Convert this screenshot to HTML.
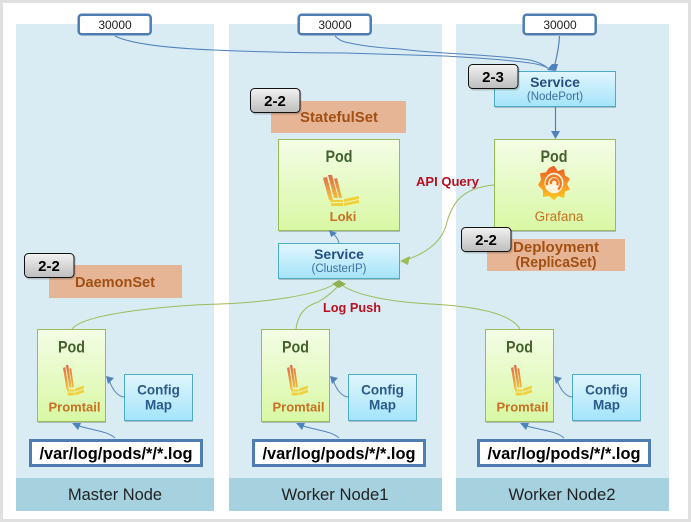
<!DOCTYPE html>
<html><head><meta charset="utf-8"><style>
html,body{margin:0;padding:0;background:#fff}
svg{display:block}
text{font-family:"Liberation Sans","DejaVu Sans",sans-serif;text-anchor:middle}
.pod{font-size:17px;font-weight:bold;fill:#44612f}
.app{font-size:13px;font-weight:bold;fill:#c8701f}
.svc{font-size:14px;font-weight:bold;fill:#244f80}
.sub{font-size:11.5px;fill:#3f6f9f}
.cfg{font-size:13.5px;fill:#2a5a8c;font-weight:bold}
.log{font-size:16.5px;font-weight:bold;fill:#000}
.node{font-size:16.5px;fill:#222}
.port{font-size:12px;fill:#222}
.bad{font-size:15px;font-weight:bold;fill:#000}
.org{font-size:14.5px;font-weight:bold;fill:#a14f12}
.red{font-size:13px;font-weight:bold;fill:#b80f20}
</style></head><body>
<svg width="691" height="522" viewBox="0 0 691 522" xmlns="http://www.w3.org/2000/svg">
<defs>
<linearGradient id="g" x1="0" y1="0" x2="0" y2="1"><stop offset="0" stop-color="#f4fde6"/><stop offset="1" stop-color="#d8f8a4"/></linearGradient>
<linearGradient id="b" x1="0" y1="0" x2="0" y2="1"><stop offset="0" stop-color="#e2f6fd"/><stop offset="1" stop-color="#a4e4fa"/></linearGradient>
<linearGradient id="s" x1="0" y1="0" x2="0" y2="1"><stop offset="0" stop-color="#f2f2f2"/><stop offset="1" stop-color="#bdbdbd"/></linearGradient>
<linearGradient id="l" gradientUnits="userSpaceOnUse" x1="0" y1="0" x2="0" y2="26"><stop offset="0" stop-color="#dd6a48"/><stop offset="1" stop-color="#f6c63e"/></linearGradient>
<linearGradient id="gr" x1="0" y1="0" x2="0" y2="1"><stop offset="0" stop-color="#ef5a28"/><stop offset="1" stop-color="#fbca1f"/></linearGradient>
<g id="logo">
<path d="M0 3 L4 2 L10 25 L6 25Z M5 0 L9 0 L15 23 L11 23Z M11 4 L14 3 L19 23 L16 23Z" fill="url(#l)"/>
<path d="M7 25 H20 V27 H7Z M8 28 H20 V31 H8Z M21 24 L36 21 V24 L21 27Z M21 28 L36 25 V28 L21 31Z" fill="#f3cf3c"/>
</g>
<g id="pt">
<rect x="0" y="0" width="68" height="92" fill="url(#g)" stroke="#9bbb59" stroke-width="1"/>
<text class="pod" x="34" y="23" textLength="27" lengthAdjust="spacingAndGlyphs">Pod</text>
<g transform="translate(25.5,35.5) scale(.58 .98)"><use href="#logo"/></g>
<text class="app" x="37" y="82">Promtail</text>
</g>
<g id="cm">
<rect x="0" y="0" width="68" height="46" fill="url(#b)" stroke="#4bacc6" stroke-width="1"/>
<text class="cfg" x="34" y="20">Config</text>
<text class="cfg" x="34" y="35">Map</text>
</g>
<g id="lg">
<rect x="1.5" y="1.5" width="171" height="25" fill="#fff" stroke="#4f7cb3" stroke-width="3"/>
<text class="log" x="87" y="20" textLength="153" lengthAdjust="spacingAndGlyphs">/var/log/pods/*/*.log</text>
</g>
<g id="pb">
<rect x="1.2" y="1.2" width="72" height="19.6" rx="3" fill="#fff" stroke="#4f7cb3" stroke-width="2.5"/>
<text class="port" x="37.5" y="15.5">30000</text>
</g>
<g id="bd">
<rect x="1.5" y="1.5" width="50" height="25" rx="4" fill="#000" opacity=".18"/>
<rect x=".5" y=".5" width="49.5" height="24" rx="4" fill="url(#s)" stroke="#111" stroke-width="1"/>
<text class="bad" x="25" y="18">2-2</text>
</g>
</defs>

<rect width="691" height="522" fill="#e0e0e0"/>
<rect x="3" y="3" width="685" height="516" fill="#fff"/>

<rect x="16" y="24" width="198" height="487" fill="#daecf3"/>
<rect x="229" y="24" width="213" height="487" fill="#daecf3"/>
<rect x="456" y="24" width="213" height="487" fill="#daecf3"/>
<rect x="16" y="478" width="198" height="33" fill="#a6d2e0"/>
<rect x="229" y="478" width="213" height="33" fill="#a6d2e0"/>
<rect x="456" y="478" width="213" height="33" fill="#a6d2e0"/>
<text class="node" x="115" y="500" textLength="94" lengthAdjust="spacingAndGlyphs">Master Node</text>
<text class="node" x="335" y="500" textLength="107" lengthAdjust="spacingAndGlyphs">Worker Node1</text>
<text class="node" x="562" y="500" textLength="107" lengthAdjust="spacingAndGlyphs">Worker Node2</text>

<!-- orange labels -->
<rect x="271" y="101" width="135" height="32" fill="#e6b595"/>
<text class="org" x="339" y="122" textLength="78" lengthAdjust="spacingAndGlyphs">StatefulSet</text>
<rect x="49" y="265" width="133" height="33" fill="#e6b595"/>
<text class="org" x="115" y="287" textLength="80" lengthAdjust="spacingAndGlyphs">DaemonSet</text>
<rect x="487" y="239" width="138" height="32" fill="#e6b595"/>
<text class="org" x="556" y="252" textLength="86" lengthAdjust="spacingAndGlyphs">Deployment</text>
<text class="org" x="556" y="267" textLength="81" lengthAdjust="spacingAndGlyphs">(ReplicaSet)</text>

<!-- shadows -->
<g fill="#000" opacity=".2">
<rect x="279" y="141" width="121" height="91"/><rect x="279" y="245" width="121" height="35"/>
<rect x="495" y="73" width="121" height="35"/><rect x="495" y="141" width="121" height="91"/>
<rect x="38" y="331" width="68" height="92"/><rect x="262" y="331" width="68" height="92"/><rect x="486" y="331" width="68" height="92"/>
<rect x="125" y="376" width="68" height="46"/><rect x="349" y="376" width="68" height="46"/><rect x="573" y="376" width="68" height="46"/>
</g>

<!-- Loki pod -->
<rect x="278.5" y="139.5" width="121" height="91" fill="url(#g)" stroke="#9bbb59"/>
<text class="pod" x="339" y="162" textLength="27" lengthAdjust="spacingAndGlyphs">Pod</text>
<g transform="translate(323,175)"><use href="#logo"/></g>
<text class="app" x="343" y="221">Loki</text>

<!-- ClusterIP -->
<rect x="278.5" y="243.5" width="121" height="35" fill="url(#b)" stroke="#4bacc6"/>
<text class="svc" x="339" y="259">Service</text>
<text class="sub" x="339" y="272">(ClusterIP)</text>

<!-- NodePort -->
<rect x="494.5" y="71.5" width="121" height="35" fill="url(#b)" stroke="#4bacc6"/>
<text class="svc" x="555" y="87">Service</text>
<text class="sub" x="555" y="100">(NodePort)</text>

<!-- Grafana pod -->
<rect x="494.5" y="139.5" width="121" height="91" fill="url(#g)" stroke="#9bbb59"/>
<text class="pod" x="554" y="162" textLength="27" lengthAdjust="spacingAndGlyphs">Pod</text>
<g transform="translate(554,183) scale(1 1.08)">
<path d="M0 -16 L4 -11 L10 -13 L11 -7 L16 -4 L13 1 L16 6 L11 8 L10 14 L4 12 L0 16 L-5 12 L-11 13 L-11 7 L-16 2 L-13 -3 L-14 -9 L-8 -10 L-5 -14Z" fill="url(#gr)"/>
<circle cx="0" cy="0" r="9.5" fill="#fdf6dc"/>
<path d="M-7 2 A7 7 0 1 1 4 6 M-3 1 A3.4 3.4 0 1 1 3 2" fill="none" stroke="#f07a24" stroke-width="2.4"/>
</g>
<text class="app" x="559" y="221" style="font-weight:normal;font-size:13.5px">Grafana</text>

<!-- promtail, config, logs -->
<use href="#pt" x="37.5" y="329.5"/>
<use href="#pt" x="261.5" y="329.5"/>
<use href="#pt" x="485.5" y="329.5"/>
<use href="#cm" x="124.5" y="374.5"/>
<use href="#cm" x="348.5" y="374.5"/>
<use href="#cm" x="572.5" y="374.5"/>
<use href="#lg" x="29" y="439"/>
<use href="#lg" x="252" y="439"/>
<use href="#lg" x="477" y="439"/>

<!-- ports -->
<use href="#pb" x="77.5" y="13.5"/>
<use href="#pb" x="297.5" y="13.5"/>
<use href="#pb" x="522.5" y="13.5"/>

<!-- blue connectors -->
<g fill="none" stroke="#4f81bd" stroke-width="1">
<path d="M115 36 C135 46 190 49 214 50 C260 52 300 53 345 53 C385 54 420 55 445 56 C480 58 510 60 530 63 C538 64 544 66 548 68"/>
<path d="M335 36 C338 39 341 41 345 42 C362 46 380 48 400 49 C415 51 430 52 445 53 C480 55 510 57 530 60 C538 62 544 65 548 68"/>
<path d="M559.5 36 C559 46 558 52 555 64" stroke-width="1.2"/>
<path d="M555.5 107 V133" stroke-width="1.2"/>
<path d="M339 243 C338 238 335 235 331 232"/>
<path d="M124 397 C116 396 112 388 108 378"/><path d="M348 397 C340 396 336 388 332 378"/><path d="M572 397 C564 396 560 388 556 378"/>
<path d="M115 438 C108 431 90 430 76 425"/><path d="M339 438 C332 431 314 430 300 425"/><path d="M564 438 C557 431 539 430 523 425"/>
</g>
<g fill="#4f81bd">
<path d="M547 70 L552 64 L558 64 L556 71Z"/>
<path d="M555.5 139 L551 131 H560Z"/>
<path d="M329 230 L337 233 L331 237Z"/>
<path d="M106 376 L114 378 L108 384Z"/><path d="M330 376 L338 378 L332 384Z"/><path d="M554 376 L562 378 L556 384Z"/>
<path d="M72 423 L81 423 L78 430Z"/><path d="M296 423 L305 423 L302 430Z"/><path d="M520 423 L529 423 L526 430Z"/>
</g>

<!-- green connectors -->
<g fill="none" stroke="#9bbb59" stroke-width="1">
<path d="M494 185 C460 188 452 205 447 222 C442 245 420 256 402 261"/>
<path d="M72 329 C85 312 180 305 220 304 C270 302 315 295 333 285"/>
<path d="M296 329 C298 312 308 305 318 302 C325 298 333 292 339 285"/>
<path d="M520 329 C510 312 470 306 430 304 C390 302 355 295 342 285"/>
</g>
<path d="M400 261 L410 256 L408 265Z" fill="#9bbb59"/>
<path d="M332 284 L339 280 L346 284 L339 288Z" fill="#8fb04f"/>

<text class="red" x="447.5" y="186" textLength="63" lengthAdjust="spacingAndGlyphs">API Query</text>
<text class="red" x="352" y="312" textLength="58" lengthAdjust="spacingAndGlyphs">Log Push</text>

<!-- badges -->
<use href="#bd" x="250" y="88"/>
<use href="#bd" x="24" y="253"/>
<use href="#bd" x="461" y="227"/>
<g transform="translate(468,64)">
<rect x="1.5" y="1.5" width="50" height="25" rx="4" fill="#000" opacity=".18"/>
<rect x=".5" y=".5" width="49.5" height="24" rx="4" fill="url(#s)" stroke="#111"/>
<text class="bad" x="25" y="18">2-3</text>
</g>
</svg>
</body></html>
